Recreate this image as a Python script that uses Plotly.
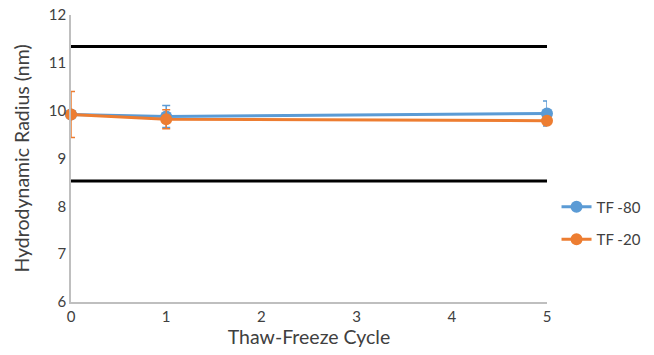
import plotly.graph_objects as go

cycles = [0, 1, 5]
tf80 = [9.92, 9.88, 9.94]
tf80_err = [0.05, 0.23, 0.26]
tf20 = [9.92, 9.82, 9.79]
tf20_err = [0.48, 0.20, 0.08]
upper_limit = 11.34
lower_limit = 8.53
x_range = [0, 5]

blue = "#5B9BD5"
orange = "#ED7D31"

fig = go.Figure()
for yv in [upper_limit, lower_limit]:
    fig.add_trace(go.Scatter(x=x_range, y=[yv, yv], mode="lines",
                             line=dict(color="black", width=3),
                             showlegend=False, hoverinfo="skip"))
fig.add_trace(go.Scatter(x=cycles, y=tf80, name="TF -80", mode="lines+markers",
                         legendgroup="a",
                         line=dict(color=blue, width=3), marker=dict(size=12, color=blue),
                         error_y=dict(type="data", array=tf80_err, color=blue, thickness=1.5, width=4),
                         cliponaxis=False))
fig.add_trace(go.Scatter(x=cycles, y=tf20, name="TF -20", mode="lines+markers",
                         legendgroup="b",
                         line=dict(color=orange, width=3), marker=dict(size=12, color=orange),
                         error_y=dict(type="data", array=tf20_err, color=orange, thickness=1.5, width=4),
                         cliponaxis=False))

font = "Lato, 'Open Sans', sans-serif"
fig.update_layout(
    width=654, height=355,
    margin=dict(l=71, r=107, t=15, b=53, autoexpand=False),
    paper_bgcolor="white", plot_bgcolor="white",
    font=dict(family=font, color="#404040", size=15),
    legend=dict(x=1.02, y=0.275, xanchor="left", yanchor="middle",
                font=dict(size=15, color="#404040"), tracegroupgap=10,
                itemwidth=30, bgcolor="rgba(0,0,0,0)"),
)
fig.update_xaxes(range=[0, 5], dtick=1, showgrid=False, zeroline=False,
                 showline=True, linecolor="#BFBFBF", linewidth=1.5,
                 ticks="", ticklen=0,
                 title=dict(text="Thaw-Freeze Cycle", font=dict(size=19.5, color="#404040"), standoff=6),
                 tickfont=dict(size=15, color="#404040"))
fig.update_yaxes(range=[6, 12], dtick=1, showgrid=False, zeroline=False,
                 showline=True, linecolor="#BFBFBF", linewidth=1.5,
                 ticks="",
                 title=dict(text="Hydrodynamic Radius (nm)", font=dict(size=19.5, color="#404040"), standoff=14),
                 tickfont=dict(size=15, color="#404040"))

fig.write_html("out.html")
